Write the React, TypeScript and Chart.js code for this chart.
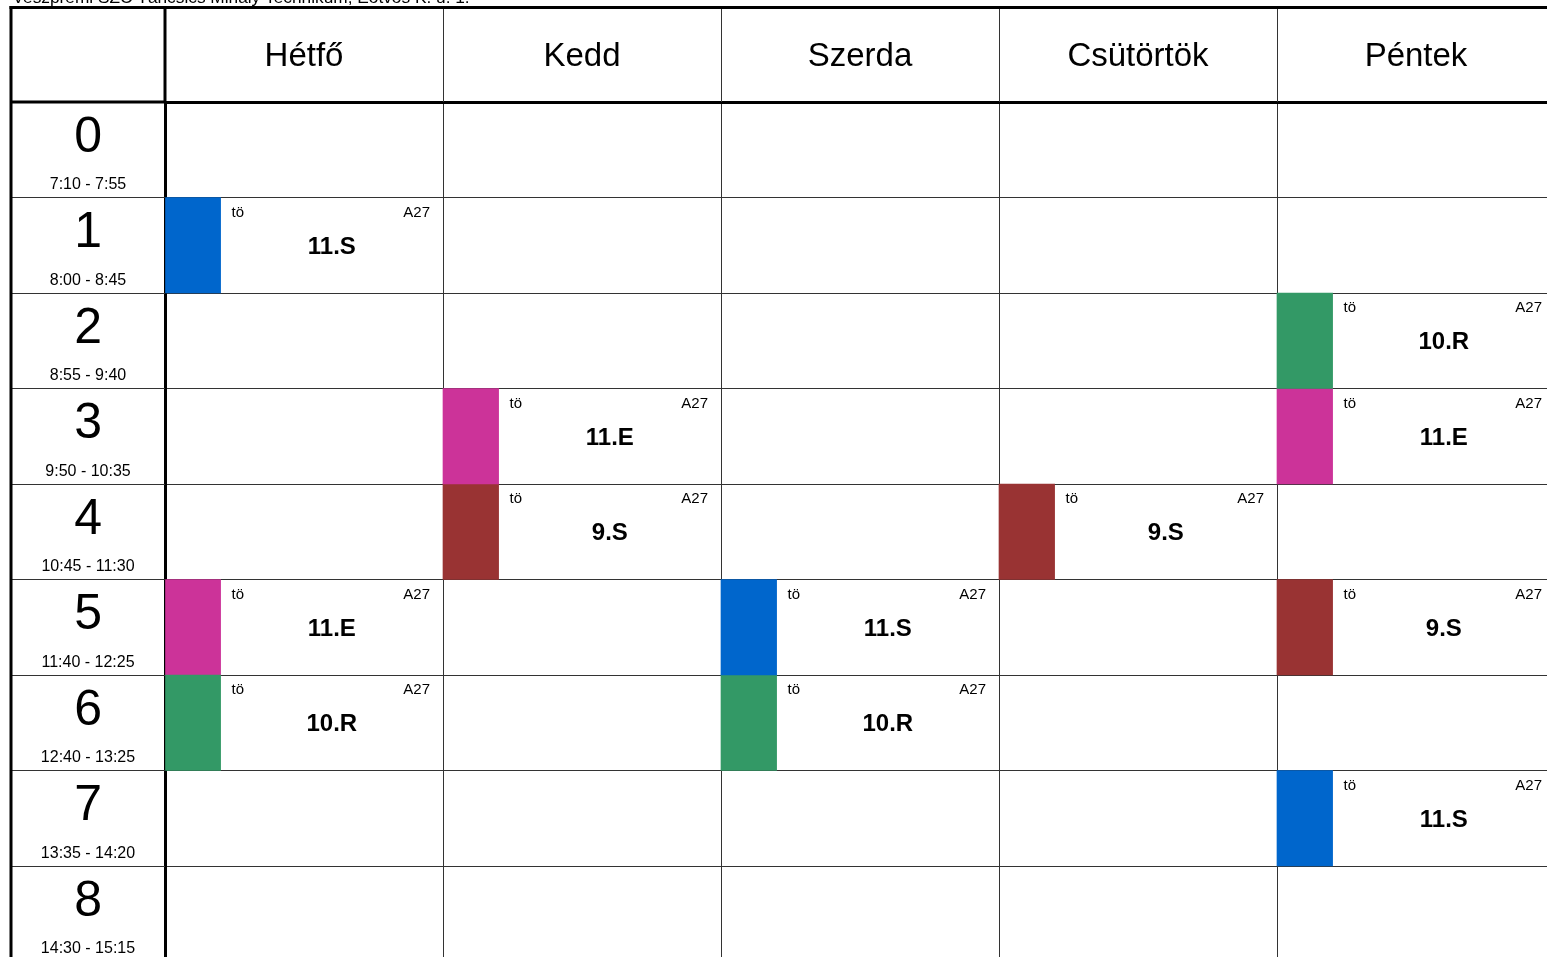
import React, { useEffect, useRef } from 'react';
import { Chart, registerables } from 'chart.js';

Chart.register(...registerables);

const FONT = '"Liberation Sans", Arial, Helvetica, sans-serif';

const headerTitle = 'Veszprémi SZC Táncsics Mihály Technikum, Eötvös K. u. 1.';
const days = ['Hétfő', 'Kedd', 'Szerda', 'Csütörtök', 'Péntek'];
const periods = ['0', '1', '2', '3', '4', '5', '6', '7', '8'];
const periodTimes = [
  '7:10 - 7:55',
  '8:00 - 8:45',
  '8:55 - 9:40',
  '9:50 - 10:35',
  '10:45 - 11:30',
  '11:40 - 12:25',
  '12:40 - 13:25',
  '13:35 - 14:20',
  '14:30 - 15:15',
];
const classNames = ['11.S', '10.R', '11.E', '9.S'];
const classColors = ['#0066CC', '#339966', '#CC3399', '#993333'];

const lessonDays = [0, 0, 0, 1, 1, 2, 2, 3, 4, 4, 4, 4];
const lessonPeriods = [1, 5, 6, 3, 4, 5, 6, 4, 2, 3, 5, 7];
const lessonClasses = ['11.S', '11.E', '10.R', '11.E', '9.S', '11.S', '10.R', '9.S', '10.R', '11.E', '9.S', '11.S'];
const lessonSubject = 'tö';
const lessonRoom = 'A27';

// fraction of a day column covered by the coloured class strip
const STRIP = 0.2;

const align1 = (p: number) => Math.round(p - 0.5) + 0.5;

const tablePlugin = {
  id: 'tableDecor',
  afterDraw(chart: any) {
    const ctx = chart.ctx as CanvasRenderingContext2D;
    const { left, top } = chart.chartArea;
    const xs = chart.scales.x;
    const ys = chart.scales.y;
    const xd = chart.scales.xDays;
    const frameLeft = ys.left;
    const frameTop = xd.top;
    const rowH = ys.getPixelForValue(1) - ys.getPixelForValue(0);

    const line = (x1: number, y1: number, x2: number, y2: number) => {
      ctx.beginPath();
      ctx.moveTo(x1, y1);
      ctx.lineTo(x2, y2);
      ctx.stroke();
    };

    ctx.save();
    // school title (mostly cut off at the top)
    ctx.fillStyle = '#000';
    ctx.font = `17.3px ${FONT}`;
    ctx.textAlign = 'left';
    ctx.textBaseline = 'alphabetic';
    ctx.fillText(headerTitle, frameLeft + 1.5, frameTop - 4.5);

    // thin separators in header and left column
    ctx.strokeStyle = '#333';
    ctx.lineWidth = 1;
    for (let d = 1; d < days.length; d++) {
      const px = align1(xs.getPixelForValue(d));
      line(px, frameTop, px, top);
    }
    for (let i = 1; i < periods.length; i++) {
      const py = align1((ys.getPixelForValue(i - 1) + ys.getPixelForValue(i)) / 2);
      line(frameLeft, py, left, py);
    }

    // thick frame
    ctx.strokeStyle = '#000';
    ctx.lineWidth = 3;
    line(frameLeft - 1.5, frameTop, chart.width, frameTop);
    line(frameLeft, frameTop - 1.5, frameLeft, chart.height);
    line(left, frameTop, left, top);
    line(frameLeft, top, left, top);

    // times in left column
    ctx.fillStyle = '#000';
    ctx.font = `16px ${FONT}`;
    ctx.textAlign = 'center';
    ctx.textBaseline = 'middle';
    periodTimes.forEach((t, i) => {
      ctx.fillText(t, (frameLeft + left) / 2, ys.getPixelForValue(i) + 35);
    });

    // lesson texts
    lessonDays.forEach((d, k) => {
      const x0 = xs.getPixelForValue(d + STRIP);
      const x1 = xs.getPixelForValue(d + 1);
      const cy = ys.getPixelForValue(lessonPeriods[k]);
      const rowTop = cy - rowH / 2;
      ctx.font = `15px ${FONT}`;
      ctx.textBaseline = 'middle';
      ctx.textAlign = 'left';
      ctx.fillText(lessonSubject, x0 + 11, rowTop + 15);
      ctx.textAlign = 'right';
      ctx.fillText(lessonRoom, x1 - 13, rowTop + 15);
      ctx.font = `bold 24px ${FONT}`;
      ctx.textAlign = 'center';
      ctx.fillText(lessonClasses[k], (x0 + x1) / 2, cy + 2);
    });
    ctx.restore();
  },
};

export default function App() {
  const ref = useRef<HTMLCanvasElement>(null);

  useEffect(() => {
    const datasets = classNames.map((cls, ci) => ({
      label: cls,
      backgroundColor: classColors[ci],
      borderWidth: 0,
      data: lessonClasses
        .map((c, k) => ({ c, k }))
        .filter((o) => o.c === cls)
        .map((o) => ({ y: periods[lessonPeriods[o.k]], x: [lessonDays[o.k], lessonDays[o.k] + STRIP] })),
    }));

    const chart = new Chart(ref.current as HTMLCanvasElement, {
      type: 'bar',
      data: { labels: periods, datasets: datasets as any },
      options: {
        indexAxis: 'y',
        responsive: true,
        maintainAspectRatio: false,
        animation: false,
        devicePixelRatio: 1,
        layout: { padding: { left: 11, top: 7.5, right: 5, bottom: 8.5 } },
        plugins: {
          legend: { display: false },
          tooltip: { enabled: false },
          title: { display: false },
        },
        datasets: {
          bar: { categoryPercentage: 1, barPercentage: 1, grouped: false },
        },
        scales: {
          x: {
            type: 'linear',
            position: 'bottom',
            min: 0,
            max: 5,
            z: 1,
            ticks: { display: false, stepSize: 1 },
            grid: { color: '#333', lineWidth: 1, drawTicks: false },
            border: { display: false },
            afterFit: (s: any) => {
              s.height = 0;
              s.paddingLeft = 0;
              s.paddingRight = 0;
            },
          },
          xDays: {
            type: 'category',
            labels: days,
            position: 'top',
            offset: true,
            z: 1,
            grid: { display: false, drawTicks: false },
            border: { display: true, color: '#000', width: 3 },
            ticks: {
              font: { family: FONT, size: 33 },
              color: '#000',
              padding: 25,
              maxRotation: 0,
              autoSkip: false,
            },
            afterFit: (s: any) => {
              s.height = 94.5;
              s.paddingLeft = 0;
              s.paddingRight = 0;
            },
          },
          y: {
            type: 'category',
            labels: periods,
            offset: true,
            z: 1,
            grid: { offset: true, color: '#333', lineWidth: 1, drawTicks: false },
            border: { display: true, color: '#000', width: 3 },
            ticks: {
              font: { family: FONT, size: 50 },
              color: '#000',
              crossAlign: 'center',
              padding: 63,
              labelOffset: -12,
              autoSkip: false,
            },
            afterFit: (s: any) => {
              s.width = 154;
              s.paddingTop = 0;
              s.paddingBottom = 0;
            },
          },
        } as any,
      },
      plugins: [tablePlugin],
    });
    return () => chart.destroy();
  }, []);

  return (
    <div
      style={{
        position: 'fixed',
        left: 0,
        top: 0,
        width: 1547,
        height: 957,
        overflow: 'hidden',
        background: '#fff',
      }}
    >
      <div style={{ position: 'relative', width: 1560, height: 970 }}>
        <canvas ref={ref} />
      </div>
    </div>
  );
}
